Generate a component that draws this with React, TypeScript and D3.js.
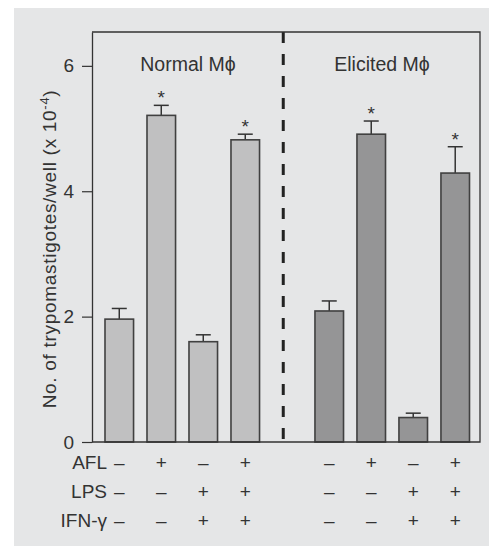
import * as d3 from "d3";
import { useRef, useEffect } from "react";

// bar slots: 4 normal, a gap for the divider, 4 elicited
const slots = ["N1", "N2", "N3", "N4", "gap", "E1", "E2", "E3", "E4"];
const normalSlots = ["N1", "N2", "N3", "N4"];
const elicitedSlots = ["E1", "E2", "E3", "E4"];

const normalMeans = [1.96, 5.21, 1.6, 4.82];
const normalErr = [0.17, 0.16, 0.11, 0.09];
const normalSig = [false, true, false, true];

const elicitedMeans = [2.09, 4.91, 0.39, 4.29];
const elicitedErr = [0.16, 0.21, 0.07, 0.42];
const elicitedSig = [false, true, false, true];

const groupLabels = ["Normal M\u03d5", "Elicited M\u03d5"];
const rowLabels = ["AFL", "LPS", "IFN-\u03b3"];
const aflSigns = ["\u2013", "+", "\u2013", "+"];
const lpsSigns = ["\u2013", "\u2013", "+", "+"];
const ifnSigns = ["\u2013", "\u2013", "+", "+"];

const yTicks = [0, 2, 4, 6];

const width = 489;
const height = 546;
const left = 92;
const right = 480;
const top = 32;
const bottom = 442;

const font = "'Liberation Sans', Arial, sans-serif";
const ink = "#333";

export default function App() {
  const gy = useRef(null);
  const x = d3.scaleBand(slots, [105, 469.5]).paddingInner(0.32).paddingOuter(0);
  const y = d3.scaleLinear([0, 6.54], [bottom, top]);
  const bw = x.bandwidth();

  useEffect(() => {
    const g = d3.select(gy.current);
    g.call(d3.axisLeft(y).tickValues(yTicks).tickFormat(d3.format("d"))
      .tickSize(10).tickSizeOuter(0).tickPadding(8));
    g.select(".domain").attr("stroke", ink).attr("stroke-width", 1.3);
    g.selectAll(".tick line").attr("stroke", ink).attr("stroke-width", 1.2);
    g.selectAll("text")
      .attr("fill", ink)
      .style("font-family", font)
      .style("font-size", "19px");
  }, []);

  const groups = [
    { keys: normalSlots, means: normalMeans, err: normalErr, sig: normalSig, fill: "#c0c0c1" },
    { keys: elicitedSlots, means: elicitedMeans, err: elicitedErr, sig: elicitedSig, fill: "#959596" }
  ];
  const signRows = [aflSigns, lpsSigns, ifnSigns];
  const signKeys = [normalSlots, elicitedSlots];
  const labelX = [188, 382];

  const dividerX = x("gap") + bw / 2 - 4;

  return (
    <svg width={width} height={height} style={{ position: "absolute", left: 0, top: 0 }}>
      <rect x={14} y={8} width={width - 14} height={height - 8} fill="#e5e6e7" />

      {groups.map((gr, gi) => (
        <g key={gi}>
          {gr.keys.map((k, i) => {
            const cx = x(k) + bw / 2;
            const yTop = y(gr.means[i]);
            const yCap = y(gr.means[i] + gr.err[i]);
            return (
              <g key={k}>
                <line x1={cx} x2={cx} y1={yTop} y2={yCap} stroke={ink} strokeWidth={1.5} />
                <line x1={cx - 7.5} x2={cx + 7.5} y1={yCap} y2={yCap} stroke={ink} strokeWidth={1.5} />
                <rect x={x(k)} y={yTop} width={bw} height={bottom - yTop}
                  fill={gr.fill} stroke="#404040" strokeWidth={1.6} />
                {gr.sig[i] && (
                  <text x={cx} y={yCap - 1} textAnchor="middle" fontFamily={font}
                    fontSize={19} fill={ink}>*</text>
                )}
              </g>
            );
          })}
        </g>
      ))}

      <line x1={dividerX} x2={dividerX} y1={top} y2={bottom - 2} stroke="#222"
        strokeWidth={3} strokeDasharray="11,11" />

      <path d={`M${left},${top}H${right}V${bottom}H${left}`} fill="none" stroke={ink} strokeWidth={1.3} />
      <g ref={gy} transform={`translate(${left},0)`} />

      {groupLabels.map((lab, i) => (
        <text key={lab} x={labelX[i]} y={71} textAnchor="middle" fontFamily={font}
          fontSize={19.5} fill={ink}>
          {lab}
        </text>
      ))}

      <text transform="translate(56,249) rotate(-90)" textAnchor="middle" fontFamily={font}
        fontSize={19} letterSpacing={0.7} fill={ink}>
        No. of trypomastigotes/well (x 10<tspan dy={-7} fontSize={13}>-4</tspan><tspan dy={7}>)</tspan>
      </text>

      {rowLabels.map((lab, r) => (
        <g key={lab}>
          <text x={107} y={469 + r * 29} textAnchor="end" fontFamily={font} fontSize={19} fill={ink}>
            {lab}
          </text>
          {signKeys.map((keys, gi) =>
            keys.map((k, i) => (
              <text key={gi + k} x={x(k) + bw / 2} y={469 + r * 29} textAnchor="middle"
                fontFamily={font} fontSize={19} fill={ink}>
                {signRows[r][i]}
              </text>
            ))
          )}
        </g>
      ))}
    </svg>
  );
}
